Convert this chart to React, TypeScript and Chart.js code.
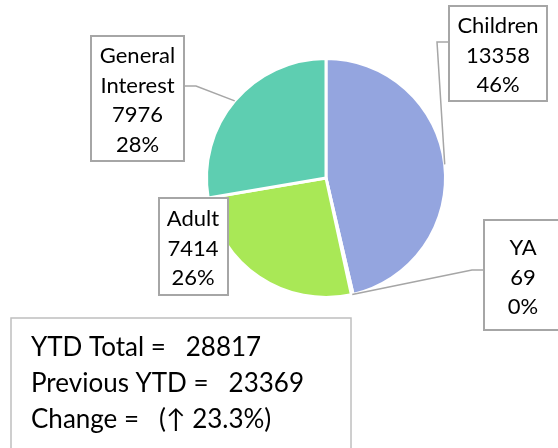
import React, { useEffect, useRef } from "react";
import { Chart, registerables } from "chart.js";
Chart.register(...registerables);

const categories = ["Children", "YA", "Adult", "General Interest"];
const values = [13358, 69, 7414, 7976];
const colors = ["#94A5DF", "#5B9BD5", "#A9E856", "#5ECEB1"];
const previousYTD = 23369;

const FONT = "Lato, 'Open Sans', sans-serif";

// label box layout (style/positions only)
const boxes = [
  { x: 449, y: 6, w: 98, h: 95, cx: 498, base: 33, lines: ["Children"], leader: [[449, 42], [437, 42]] },
  { x: 484, y: 220, w: 80, h: 110, cx: 523, base: 255, lines: ["YA"], leader: [[484, 270], [472, 270]] },
  { x: 159, y: 198, w: 69, h: 97, cx: 193, base: 226, lines: ["Adult"], leader: null },
  { x: 91, y: 36, w: 93, h: 125, cx: 137.5, base: 63, lines: ["General", "Interest"], leader: [[184, 86], [196, 86]] },
];

const labelPlugin = {
  id: "labelBoxes",
  afterDraw(chart: any) {
    const ctx = chart.ctx;
    const meta = chart.getDatasetMeta(0);
    const total = values.reduce((a, b) => a + b, 0);
    ctx.save();
    boxes.forEach((b, i) => {
      const arc = meta.data[i];
      const props = arc.getProps(["x", "y", "startAngle", "endAngle", "outerRadius"], true);
      const mid = (props.startAngle + props.endAngle) / 2;
      const px = props.x + Math.cos(mid) * props.outerRadius;
      const py = props.y + Math.sin(mid) * props.outerRadius;
      if (b.leader) {
        ctx.strokeStyle = "#A6A6A6";
        ctx.lineWidth = 1.5;
        ctx.beginPath();
        ctx.moveTo(b.leader[0][0], b.leader[0][1]);
        ctx.lineTo(b.leader[1][0], b.leader[1][1]);
        ctx.lineTo(px, py);
        ctx.stroke();
      }
      ctx.fillStyle = "#FFFFFF";
      ctx.fillRect(b.x, b.y, b.w, b.h);
      ctx.strokeStyle = "#A6A6A6";
      ctx.lineWidth = 2;
      ctx.strokeRect(b.x, b.y, b.w, b.h);
      const pct = Math.round((values[i] / total) * 100) + "%";
      const lines = [...b.lines, String(values[i]), pct];
      ctx.fillStyle = "#000000";
      ctx.font = "22px " + FONT;
      ctx.textAlign = "center";
      ctx.textBaseline = "alphabetic";
      lines.forEach((t, k) => ctx.fillText(t, b.cx, b.base + k * 29.5));
    });

    // summary box
    const change = ((total / previousYTD - 1) * 100).toFixed(1);
    ctx.fillStyle = "#FFFFFF";
    ctx.fillRect(11, 318, 340, 140);
    ctx.strokeStyle = "#BFBFBF";
    ctx.lineWidth = 1.5;
    ctx.strokeRect(11, 318, 340, 140);
    ctx.fillStyle = "#000000";
    ctx.font = "26px " + FONT;
    ctx.textAlign = "left";
    ctx.fillText("YTD Total =   " + total, 31, 356);
    ctx.fillText("Previous YTD =   " + previousYTD, 31, 392);
    ctx.fillText("Change =   (\u2191 " + change + "%)", 31, 428);
    ctx.restore();
  },
};

export default function App() {
  const ref = useRef<HTMLCanvasElement>(null);
  useEffect(() => {
    if (!ref.current) return;
    const chart = new Chart(ref.current, {
      type: "pie",
      data: {
        labels: categories,
        datasets: [
          {
            data: values,
            backgroundColor: colors,
            borderColor: "#FFFFFF",
            borderWidth: 3,
          },
        ],
      },
      options: {
        animation: false,
        responsive: false,
        maintainAspectRatio: false,
        layout: { padding: { left: 205, right: 111, top: 57, bottom: 149 } },
        plugins: { legend: { display: false }, tooltip: { enabled: false } },
      },
      plugins: [labelPlugin],
    });
    return () => chart.destroy();
  }, []);
  return (
    <div style={{ position: "absolute", left: 0, top: 0, width: 558, height: 448, background: "#fff" }}>
      <canvas ref={ref} width={558} height={448} style={{ width: 558, height: 448 }} />
    </div>
  );
}
